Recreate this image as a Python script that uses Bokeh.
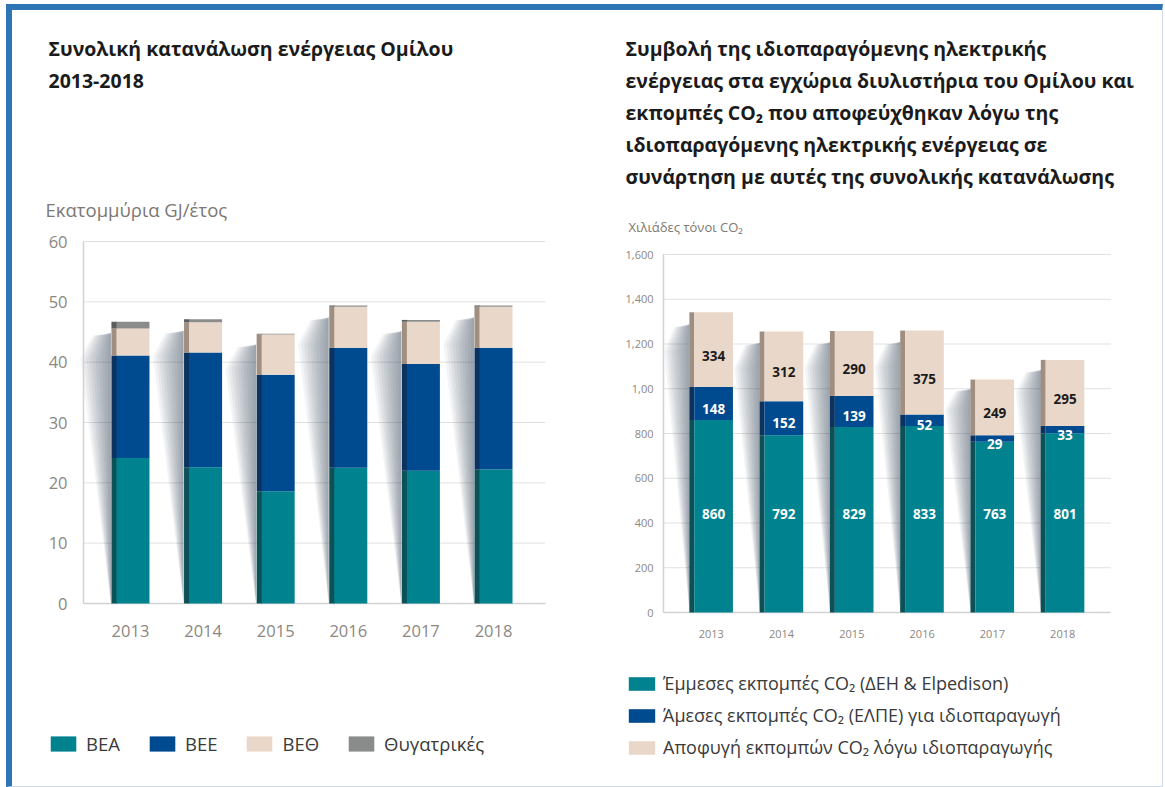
from bokeh.plotting import figure
from bokeh.models import (FactorRange, Range1d, Legend, LegendItem, FixedTicker,
                          ColumnDataSource, LabelSet, Label)
from bokeh.layouts import row
from bokeh.transform import dodge
from bokeh.embed import file_html
from bokeh.resources import INLINE
from bokeh.core.properties import value

# ---------------- data ----------------
years = ["2013", "2014", "2015", "2016", "2017", "2018"]

# Left chart: million GJ / year
left_series = ["ΒΕΑ", "ΒΕΕ", "ΒΕΘ", "Θυγατρικές"]
bea = [24.1, 22.6, 18.6, 22.5, 22.0, 22.2]
bee = [17.0, 19.0, 19.3, 19.9, 17.7, 20.2]
beth = [4.5, 5.0, 6.7, 6.8, 7.0, 6.8]
subs = [1.1, 0.5, 0.1, 0.2, 0.3, 0.2]
left_ticks = [0, 10, 20, 30, 40, 50, 60]

# Right chart: thousand tonnes CO2
right_series = ["Έμμεσες εκπομπές CO₂ (ΔΕΗ & Elpedison)",
                "Άμεσες εκπομπές CO₂ (ΕΛΠΕ) για ιδιοπαραγωγή",
                "Αποφυγή εκπομπών CO₂ λόγω ιδιοπαραγωγής"]
indirect = [860, 792, 829, 833, 763, 801]
direct = [148, 152, 139, 52, 29, 33]
avoided = [334, 312, 290, 375, 249, 295]
right_ticks = [0, 200, 400, 600, 800, 1000, 1200, 1400, 1600]
right_tick_labels = ["0", "200", "400", "600", "800", "1,00", "1,200", "1,400", "1,600"]

left_title = ["Συνολική κατανάλωση ενέργειας Ομίλου", "2013-2018"]
left_unit = "Εκατομμύρια GJ/έτος"
right_title = ["Συμβολή της ιδιοπαραγόμενης ηλεκτρικής",
               "ενέργειας στα εγχώρια διυλιστήρια του Ομίλου και",
               "εκπομπές CO₂ που αποφεύχθηκαν λόγω της",
               "ιδιοπαραγόμενης ηλεκτρικής ενέργειας σε",
               "συνάρτηση με αυτές της συνολικής κατανάλωσης"]
right_unit = "Χιλιάδες τόνοι CO₂"

# ---------------- style ----------------
FONT = "Open Sans"
TEAL, BLUE, BEIGE, GREY = "#00838f", "#004a8f", "#e9d7c9", "#8a8c8c"
TEAL_D, BLUE_D, BEIGE_D, GREY_D = "#0c5158", "#0c3360", "#a08f81", "#5c5e5e"
TICK_COL = "#8c8782"
TITLE_COL = "#1b1b1b"
FIG_H = 776


def add_text(p, x, y, text, size, color=TITLE_COL, bold=False):
    p.add_layout(Label(x=x, y=y, x_units="screen", y_units="screen", text=text,
                       text_font=FONT, text_font_size=f"{size}px", text_color=color,
                       text_font_style="bold" if bold else "normal",
                       text_align="left", text_baseline="middle"))


def chart_fig(width, pad, zero_px, top_px, ymax, axis_x, right_x, ticks, tick_px):
    """zero_px / top_px: distance (px, from figure bottom) of y=0 and y=ymax."""
    k = (top_px - zero_px) / ymax
    p = figure(x_range=FactorRange(factors=years, range_padding=pad,
                                   range_padding_units="absolute"),
               y_range=Range1d(-zero_px / k, (FIG_H - zero_px) / k),
               width=width, height=FIG_H, min_border=0,
               min_border_left=0, min_border_right=0, min_border_top=0, min_border_bottom=0,
               output_backend="svg", toolbar_location=None, tools="")
    p.outline_line_color = None
    p.background_fill_color = "white"
    p.border_fill_color = "white"
    p.xgrid.grid_line_color = None
    p.ygrid.grid_line_color = None
    p.yaxis.ticker = FixedTicker(ticks=ticks)
    p.yaxis.bounds = (0, ymax)
    p.yaxis.fixed_location = axis_x
    p.xaxis.fixed_location = 0
    for ax in (p.xaxis[0], p.yaxis[0]):
        ax.axis_line_color = "#d2d2d2"
        ax.axis_line_width = 1.5
        ax.major_tick_line_color = None
        ax.minor_tick_line_color = None
        ax.major_tick_out = 0
        ax.major_tick_in = 0
        ax.major_label_text_font = FONT
        ax.major_label_text_color = TICK_COL
        ax.major_label_text_font_size = f"{tick_px}px"
    p.xaxis.axis_line_color = None
    # dotted grid from the axis to the right end, solid base line at 0
    gt = [t for t in ticks if t > 0]
    p.segment(x0=[axis_x] * len(gt), x1=[right_x] * len(gt), y0=gt, y1=gt,
              line_color="#c2c2c2", line_dash="1 1", line_width=1)
    p.segment(x0=[axis_x], x1=[right_x], y0=[0], y1=[0], line_color="#d2d2d2", line_width=1.5)
    return p


def shadows(p, totals, half_w, max_w):
    # soft cast shadow left of each bar (many thin translucent wedges -> smooth fade)
    n_layers = 10
    for j in range(n_layers):
        w = max_w * (n_layers - j) / n_layers
        xs, ys = [], []
        for i, t in enumerate(totals):
            xl = i + 0.5 - half_w
            xs.append([xl, xl - w * 0.6, xl - w, xl])
            ys.append([t * 0.96, t * 0.95, t * 0.87, 0])
        p.patches(xs, ys, color="#2d3a48", alpha=0.055, line_width=0)


# ================= LEFT CHART =================
# page: figure x 12..611, y 10..786 ; y=0 at page 603, y=60 at page 241 ; axis at page x 83
src_l = ColumnDataSource(dict(year=years, bea=bea, bee=bee, beth=beth, subs=subs))
pl = chart_fig(599, 1.125, 786 - 603, 786 - 241, 60, -0.147, 6.217, left_ticks, 16.5)
pl.yaxis.major_label_standoff = 16
pl.xaxis.major_label_standoff = 21

shadows(pl, [a + b + c + d for a, b, c, d in zip(bea, bee, beth, subs)], 0.27, 0.42)
pl.vbar_stack(["bea", "bee", "beth", "subs"], x=dodge("year", -0.223, range=pl.x_range),
              width=0.079, color=[TEAL_D, BLUE_D, BEIGE_D, GREY_D], source=src_l, line_width=0)
front_l = pl.vbar_stack(["bea", "bee", "beth", "subs"], x=dodge("year", 0.034, range=pl.x_range),
                        width=0.455, color=[TEAL, BLUE, BEIGE, GREY], source=src_l, line_width=0)

leg_l = Legend(items=[LegendItem(label=s, renderers=[r]) for s, r in zip(left_series, front_l)],
               orientation="horizontal", location=(35, 30),
               glyph_width=32, glyph_height=19, label_height=19, label_standoff=7,
               spacing=26, padding=0, margin=0, border_line_color=None,
               background_fill_alpha=0, label_text_font=FONT, label_text_font_size="18.5px",
               label_text_color="#3a3a3a")
pl.add_layout(leg_l)

add_text(pl, 36, 738, left_title[0], 19.5, bold=True)
add_text(pl, 36, 706, left_title[1], 19.5, bold=True)
add_text(pl, 33, 577, left_unit, 18.5, color="#7d7873")

# ================= RIGHT CHART =================
# page: figure x 611..1162 ; y=0 at page 612, y=1600 at page 254 ; axis at page x 663
src_r = ColumnDataSource(dict(year=years, indirect=indirect, direct=direct, avoided=avoided))
pr = chart_fig(551, 0.92, 786 - 612, 786 - 254, 1600, -0.18, 6.18, right_ticks, 11)
pr.yaxis.major_label_overrides = {t: s for t, s in zip(right_ticks, right_tick_labels)}
pr.yaxis.major_label_standoff = 10
pr.xaxis.major_label_standoff = 17

shadows(pr, [a + b + c for a, b, c in zip(indirect, direct, avoided)], 0.31, 0.36)
pr.vbar_stack(["indirect", "direct", "avoided"], x=dodge("year", -0.277, range=pr.x_range),
              width=0.07, color=[TEAL_D, BLUE_D, BEIGE_D], source=src_r, line_width=0)
front_r = pr.vbar_stack(["indirect", "direct", "avoided"], x=dodge("year", 0.033, range=pr.x_range),
                        width=0.55, color=[TEAL, BLUE, BEIGE], source=src_r, line_width=0)

lab_src = ColumnDataSource(dict(
    year=years,
    y_ind=[440 for _ in years],
    y_dir=[a + b / 2 for a, b in zip(indirect, direct)],
    y_avo=[a + b + c / 2 for a, b, c in zip(indirect, direct, avoided)],
    t_ind=[str(v) for v in indirect],
    t_dir=[str(v) for v in direct],
    t_avo=[str(v) for v in avoided],
))
for yf, tf, col, off in (("y_ind", "t_ind", "white", 0), ("y_dir", "t_dir", "white", -5),
                         ("y_avo", "t_avo", "#1b1b1b", -6)):
    pr.add_layout(LabelSet(x=dodge("year", 0.033, range=pr.x_range), y=yf, text=tf, source=lab_src,
                           y_offset=off, text_align="center", text_baseline="middle",
                           text_font=value(FONT), text_font_size="13.5px",
                           text_font_style="bold", text_color=col))

leg_r = Legend(items=[LegendItem(label=s, renderers=[r]) for s, r in zip(right_series, front_r)],
               orientation="vertical", location=(14, 27),
               glyph_width=33, glyph_height=17, label_height=20, label_standoff=5,
               spacing=8, padding=0, margin=0, border_line_color=None,
               background_fill_alpha=0, label_text_font=FONT, label_text_font_size="18px",
               label_text_color="#3a3a3a")
pr.add_layout(leg_r)

for i, line in enumerate(right_title):
    add_text(pr, 14, 738 - 32 * i, line, 19.5, bold=True)
add_text(pr, 17, 560, right_unit, 13, color="#7d7873")

layout = row(pl, pr, styles={"margin-left": "6px", "margin-top": "4px",
                             "border-top": "6px solid #2e75b6",
                             "border-left": "6px solid #2e75b6",
                             "border-right": "1px solid #cfdbe8",
                             "border-bottom": "1px solid #cfdbe8"})

with open("out.html", "w") as f:
    f.write(file_html(layout, INLINE))
